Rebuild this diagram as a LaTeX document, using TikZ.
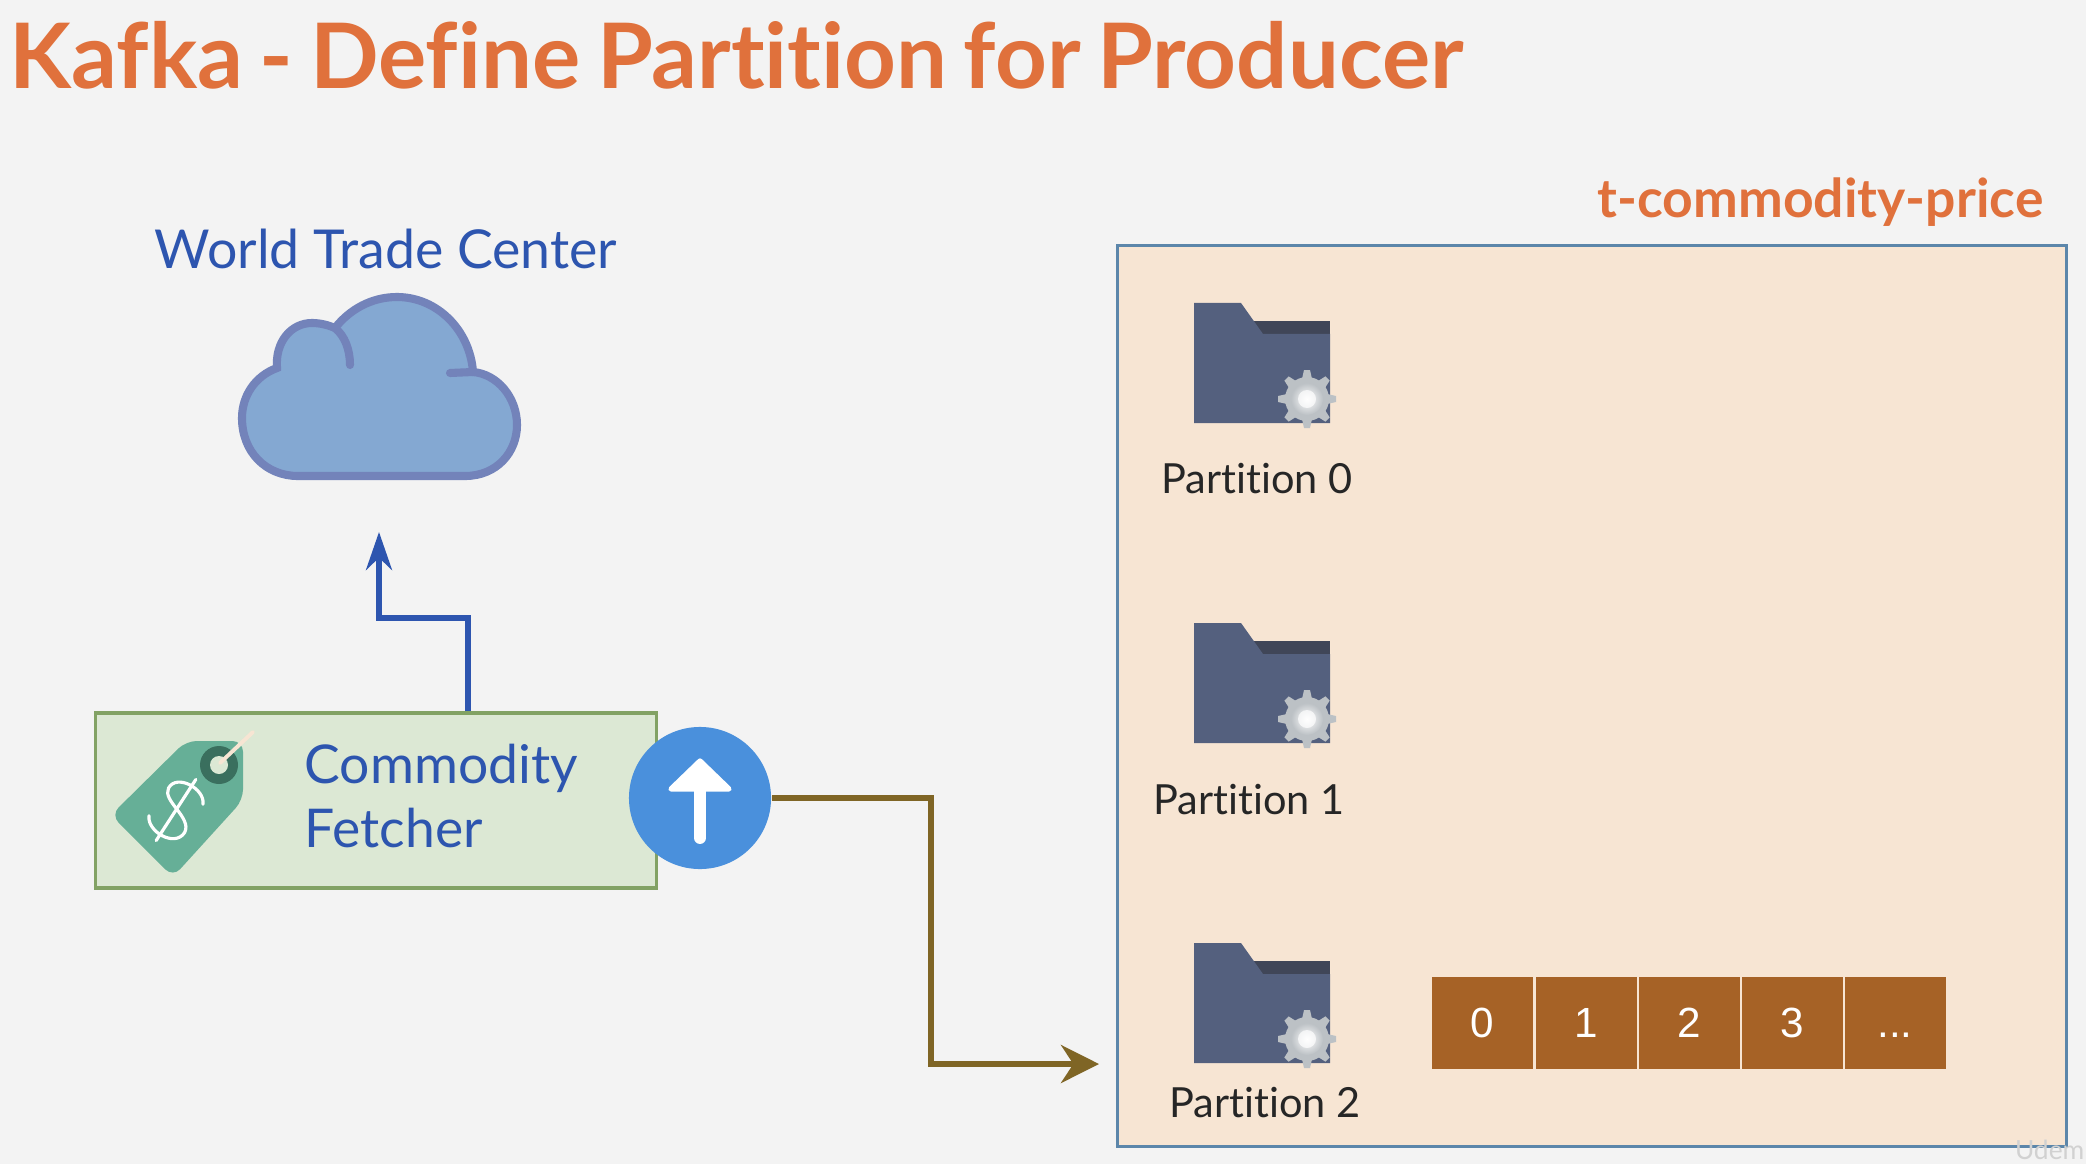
\documentclass[tikz,border=0pt]{standalone}
\usepackage{fontspec}
\setmainfont[Ligatures=NoCommon]{Lato}
\newfontfamily\cellfont{Liberation Sans}
\usetikzlibrary{arrows.meta}
\definecolor{pagebg}{RGB}{243,243,243}
\definecolor{titleorange}{RGB}{224,113,60}
\definecolor{labelblue}{RGB}{45,85,175}
\definecolor{panelfill}{RGB}{247,229,211}
\definecolor{panelline}{RGB}{92,134,170}
\definecolor{boxfill}{RGB}{220,232,212}
\definecolor{boxline}{RGB}{130,162,100}
\definecolor{cloudfill}{RGB}{132,168,210}
\definecolor{cloudline}{RGB}{115,131,186}
\definecolor{uploadblue}{RGB}{74,144,220}
\definecolor{tagfill}{RGB}{102,175,151}
\definecolor{tagdark}{RGB}{58,111,94}
\definecolor{folderfill}{RGB}{84,96,126}
\definecolor{folderdark}{RGB}{64,70,88}
\definecolor{gearfill}{RGB}{188,193,197}
\definecolor{cellfill}{RGB}{166,98,38}
\definecolor{brownline}{RGB}{127,101,37}
\tikzset{
  partlabel/.style={font=\fontsize{11.8}{14}\selectfont, text=black!85},
  cellbox/.style={fill=cellfill, text=white, minimum width=1.01cm, minimum height=0.91cm, inner sep=0pt, text height=0.85em, text depth=0pt, font=\cellfont\fontsize{12}{14}\selectfont},
  linkblue/.style={draw=labelblue, line width=1.5pt, -{Stealth[length=0.38cm,width=0.26cm]}},
  linkbrown/.style={draw=brownline, line width=1.5pt, -{Stealth[length=0.38cm,width=0.38cm]}}
}
\begin{document}
\begin{tikzpicture}[x=0.01cm, y=-0.01cm]
\useasboundingbox (0,0) rectangle (2086,1164);
\fill[pagebg] (0,0) rectangle (2086,1164);

% Title and headings
\node[anchor=west, inner sep=0pt, text=titleorange, font=\fontsize{25.7}{28}\selectfont\bfseries] (title) at (9,55) {\spaceskip=4.7pt Kafka - Define Partition for Producer};
\node[inner sep=0pt, text=labelblue, font=\fontsize{15.25}{18}\selectfont] (wtc) at (386,249) {World Trade Center};
\node[anchor=east, inner sep=0pt, text=titleorange, font=\fontsize{15.2}{18}\selectfont\bfseries] (topicname) at (2044,202) {t-commodity-price};

% Cloud
\draw[fill=cloudfill, draw=cloudline, line width=2.3pt, line cap=round] (298,476) -- (465,476)
  .. controls (497,476) and (517,452) .. (517,425)
  .. controls (517,397) and (497,374) .. (473,372)
  .. controls (470,330) and (437,297) .. (397,297)
  .. controls (372,297) and (350,309) .. (335,328)
  .. controls (328,325) and (320,323) .. (312,323)
  .. controls (291,323) and (275,342) .. (277,368)
  .. controls (255,376) and (242,396) .. (242,418)
  .. controls (242,452) and (266,476) .. (298,476) -- cycle;
\draw[draw=cloudline, line width=2.3pt, line cap=round] (335,328) .. controls (345,336) and (350,350) .. (350,365);
\draw[draw=cloudline, line width=2.3pt, line cap=round] (450,373) -- (473,372);

% Topic panel
\node[draw=panelline, fill=panelfill, line width=0.9pt, minimum width=9.48cm, minimum height=9cm, inner sep=0pt] (topic) at (1592,696) {};

% Partition folders
\foreach \n/\dy in {0/0, 1/320, 2/640} {
  \begin{scope}[yshift=-\dy*0.01cm]
    \fill[folderdark] (1250,321) rectangle (1330,334);
    \fill[folderfill] (1194,303) -- (1241,303) -- (1263,334) -- (1330,334) -- (1330,423) -- (1194,423) -- cycle;
    \fill[gearfill] (1307,399) circle (22);
    \foreach \a in {0,45,...,315} {
      \fill[gearfill, shift={(1307,399)}, rotate=\a] (-5,-20) -- (-3,-29) -- (3,-29) -- (5,-20) -- cycle;
    }
    \shade[inner color=white, outer color=gearfill] (1307,399) circle (16);
    \fill[white, opacity=0.7] (1307,399) circle (9);
  \end{scope}
}
\node[partlabel] (part0) at (1257,479) {Partition 0};
\node[partlabel] (part1) at (1249,800) {Partition 1};
\node[partlabel] (part2) at (1265,1103) {Partition 2};

% Offsets of partition 2
\node[cellbox] (cell0) at (1482,1023) {0};
\node[cellbox] (cell1) at (1586,1023) {1};
\node[cellbox] (cell2) at (1689,1023) {2};
\node[cellbox] (cell3) at (1792,1023) {3};
\node[cellbox] (cell4) at (1895,1023) {...};

% Producer box
\node[draw=boxline, fill=boxfill, line width=0.9pt, minimum width=5.6cm, minimum height=1.75cm, inner sep=0pt] (fetcher) at (376,800.5) {};
\node[anchor=west, inner sep=0pt, text=labelblue, font=\fontsize{15.2}{18}\selectfont] (fetchera) at (304,768) {Commodity};
\node[anchor=west, inner sep=0pt, text=labelblue, font=\fontsize{15.2}{18}\selectfont] (fetcherb) at (304,828) {Fetcher};

% Price tag
\fill[tagfill, rounded corners=3pt] (186,741) -- (243,741) -- (243,800) -- (173,877) -- (111,815) -- cycle;
\fill[tagdark] (219,765) circle (19);
\fill[boxfill] (219,765) circle (9);
\draw[draw=panelfill, line width=1.1pt, line cap=round] (220,763) -- (253,732);
\begin{scope}[shift={(176,810)}, rotate=-33, scale=1.3]
  \draw[white, line width=0.9pt, line cap=round] (15,-15) .. controls (10,-26) and (-15,-24) .. (-14,-11)
    .. controls (-13,0) and (14,-2) .. (15,11) .. controls (15,25) and (-10,26) .. (-15,15);
  \draw[white, line width=0.9pt, line cap=round] (0,-28) -- (0,28);
\end{scope}

% Upload button
\node[circle, fill=uploadblue, minimum size=1.42cm, inner sep=0pt] (upload) at (700,798) {};
\fill[white, draw=white, line width=1.5pt, line join=round] (700,761) -- (729,789) -- (671,789) -- cycle;
\draw[white, line width=3.4pt, line cap=round] (700,789) -- (700,838);

% Connectors
\coordinate (bluea) at (468,618);
\coordinate (blueb) at (379,618);
\coordinate (cloudtip) at (379,532);
\coordinate (browna) at (931,798);
\coordinate (brownb) at (931,1064);
\coordinate (topictip) at (1099,1064);
\draw[linkblue] (fetcher.north -| bluea) -- (bluea) -- (blueb) -- (cloudtip);
\draw[linkbrown] (upload.east) -- (browna) -- (brownb) -- (topictip);

% Watermark
\node[anchor=east, inner sep=0pt, text=black!18, font=\fontsize{7.5}{8}\selectfont] (mark) at (2085,1150) {Udem};
\end{tikzpicture}
\end{document}
